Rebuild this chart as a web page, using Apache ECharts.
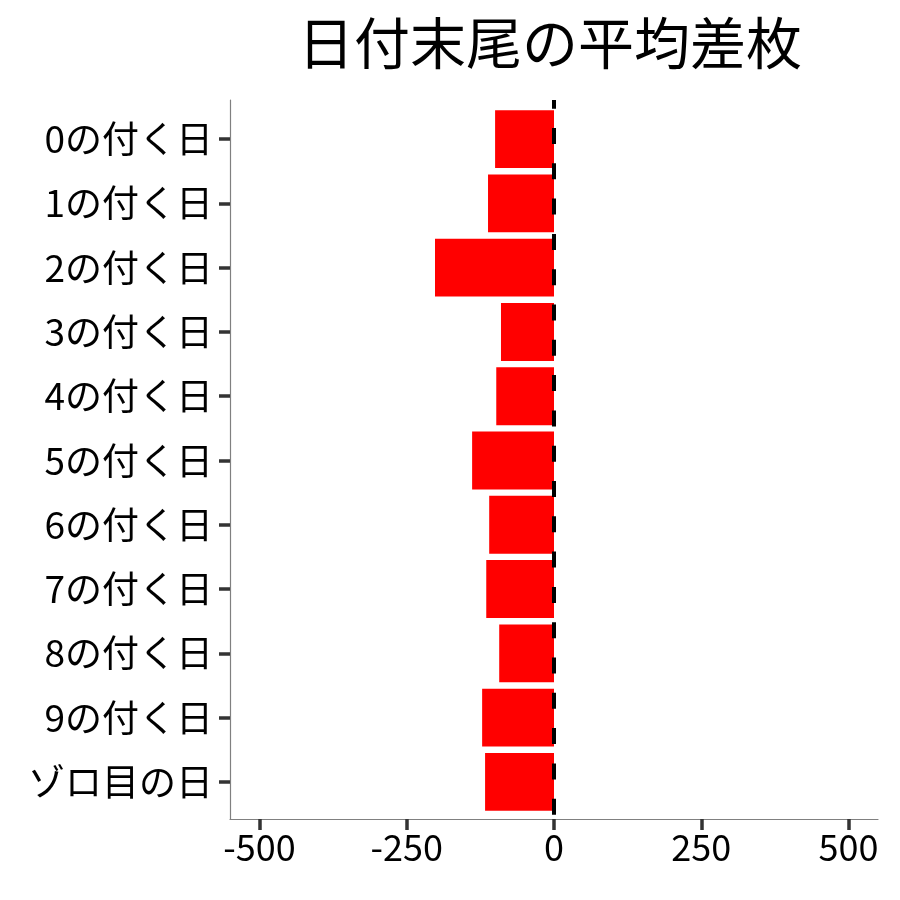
<!DOCTYPE html>
<html>
<head>
<meta charset="utf-8">
<script src="https://cdn.jsdelivr.net/npm/echarts@6/dist/echarts.min.js"></script>
<style>
  html, body { margin: 0; padding: 0; background: #fff; }
  #chart { width: 900px; height: 900px; }
</style>
</head>
<body>
<div id="chart"></div>
<script>
    /*データ*/
    var categories = ['0の付く日', '1の付く日', '2の付く日', '3の付く日', '4の付く日',
        '5の付く日', '6の付く日', '7の付く日', '8の付く日', '9の付く日', 'ゾロ目の日'];
    var avgDiff = [-100, -112, -202, -90, -98, -139, -110, -115, -93, -122, -117];
    var xTicks = [-500, -250, 0, 250, 500];
    var xMin = -550, xMax = 550;

    var font = '"Noto Sans CJK JP", "Noto Sans", sans-serif';
    var chart = echarts.init(document.getElementById('chart'));

    /*パネルの左右（px）*/
    var panelLeft = 230, panelRight = 878;
    var pxPerUnit = (panelRight - panelLeft) / (xMax - xMin);
    // 目盛り用グリッドは -500〜500 の範囲だけにする
    var tickLeft = panelLeft + (xTicks[0] - xMin) * pxPerUnit;
    var tickRight = panelRight - (xMax - xTicks[xTicks.length - 1]) * pxPerUnit;

    var tickLine = { color: '#333333', width: 3.5 };

    var option = {
        backgroundColor: '#ffffff',
        animation: false,
        title: {
            text: '日付末尾の平均差枚',
            left: 545,
            textAlign: 'center',
            top: 10,
            textStyle: { fontFamily: font, fontSize: 56, fontWeight: 'normal', color: '#000' }
        },
        grid: [
            // 軸線用（パネル全体）
            { left: panelLeft, right: 900 - panelRight, top: 100, bottom: 81 },
            // 棒用（ggplotの離散軸の余白に合わせる）
            { left: panelLeft, right: 900 - panelRight, top: 107, bottom: 86 },
            // x軸目盛り用
            { left: tickLeft, right: 900 - tickRight, top: 100, bottom: 81 }
        ],
        xAxis: [
            {
                gridIndex: 0,
                type: 'value',
                position: 'bottom',
                min: xMin,
                max: xMax,
                axisLine: { show: true, onZero: false, lineStyle: { color: '#808080', width: 1.2 } },
                axisTick: { show: false },
                axisLabel: { show: false },
                splitLine: { show: false }
            },
            {
                gridIndex: 1,
                type: 'value',
                min: xMin,
                max: xMax,
                show: false
            },
            {
                gridIndex: 2,
                type: 'category',
                position: 'bottom',
                data: xTicks.map(String),
                boundaryGap: false,
                z: 3,
                axisLine: { show: true, onZero: false, lineStyle: { color: 'rgba(0,0,0,0)', width: 0 } },
                axisTick: { show: true, interval: 0, length: 11, lineStyle: tickLine },
                axisLabel: { show: true, interval: 0, fontFamily: font, fontSize: 36, color: '#000', margin: 10 },
                splitLine: { show: false }
            }
        ],
        yAxis: [
            {
                gridIndex: 0,
                type: 'value',
                min: 0,
                max: 1,
                axisLine: { show: true, onZero: false, lineStyle: { color: '#808080', width: 1.2 } },
                axisTick: { show: false },
                axisLabel: { show: false },
                splitLine: { show: false }
            },
            {
                gridIndex: 1,
                type: 'category',
                data: categories,
                inverse: true,
                z: 3,
                axisLine: { show: true, onZero: false, lineStyle: { color: 'rgba(0,0,0,0)', width: 0 } },
                axisTick: { show: true, alignWithLabel: true, length: 11, lineStyle: tickLine },
                axisLabel: { fontFamily: font, fontSize: 37, color: '#000', margin: 17 },
                splitLine: { show: false }
            },
            {
                gridIndex: 2,
                type: 'value',
                min: 0,
                max: 1,
                show: false
            }
        ],
        series: [
            {
                name: '平均差枚',
                type: 'bar',
                xAxisIndex: 1,
                yAxisIndex: 1,
                data: avgDiff,
                barWidth: '90%',
                itemStyle: { color: '#ff0000' },
                z: 2
            },
            {
                // 0の破線
                type: 'line',
                xAxisIndex: 0,
                yAxisIndex: 0,
                data: [],
                z: 5,
                markLine: {
                    silent: true,
                    symbol: 'none',
                    label: { show: false },
                    lineStyle: { color: '#000', width: 4, type: [16, 19.3], dashOffset: 31 },
                    data: [{ xAxis: 0 }]
                }
            }
        ]
    };
    chart.setOption(option);
</script>
</body>
</html>
